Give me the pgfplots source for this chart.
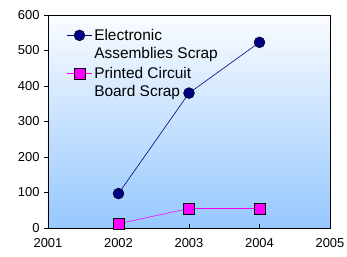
\documentclass[border=0pt]{standalone}
\usepackage{pgfplots}
\pgfplotsset{compat=1.18}
\usepackage{fontspec}
\setmainfont{Liberation Sans}
\definecolor{eacol}{RGB}{0,0,128}
\definecolor{pcbcol}{RGB}{255,0,255}
\definecolor{bgtop}{RGB}{250,252,255}
\definecolor{bgbot}{RGB}{150,200,255}
\begin{document}
\fontsize{13}{15}\selectfont
\begin{tikzpicture}[x=1bp,y=1bp]
\useasboundingbox (-48,-29) rectangle (299,228);
\begin{axis}[
  at={(0,0)}, anchor=south west,
  scale only axis, width=282bp, height=213bp,
  xmin=2001, xmax=2005, ymin=0, ymax=600,
  xtick={2001,2002,2003,2004,2005},
  ytick={0,100,200,300,400,500,600},
  /pgf/number format/set thousands separator={},
  /pgf/number format/assume math mode=true,
  tick label style={font=\fontsize{13}{15}\selectfont},
  xtick pos=bottom, ytick pos=left,
  xtick align=inside, ytick align=outside,
  major tick length=4bp,
  tick style={black, line width=0.6pt},
  x tick label style={yshift=-6bp},
  axis line style={black, line width=0.8pt},
  axis background/.style={shade, top color=bgtop, bottom color=bgbot},
  legend style={at={(0.062,0.95)}, anchor=north west, draw=none, fill=none,
    font=\fontsize{15.5}{18.5}\selectfont, row sep=2.5bp, inner sep=1bp,
    cells={align=left, anchor=west}},
  legend cell align=left,
  legend image code/.code={
    \draw[#1, mark repeat=2, mark phase=2, yshift=9.25bp] plot coordinates {(0bp,0bp) (12.5bp,0bp) (25bp,0bp)};},
]
\addplot[eacol, line width=0.6pt, mark=*, mark size=5.5bp, mark options={fill=eacol, draw=black, line width=0.4pt}]
  coordinates {(2002,97) (2003,380) (2004,523)};
\addlegendentry{Electronic\\Assemblies Scrap}
\addplot[pcbcol, line width=0.6pt, mark=square*, mark size=5.5bp, mark options={fill=pcbcol, draw=black, line width=0.4pt}]
  coordinates {(2002,12) (2003,55) (2004,55)};
\addlegendentry{Printed Circuit\\Board Scrap}
\end{axis}
\end{tikzpicture}
\end{document}
